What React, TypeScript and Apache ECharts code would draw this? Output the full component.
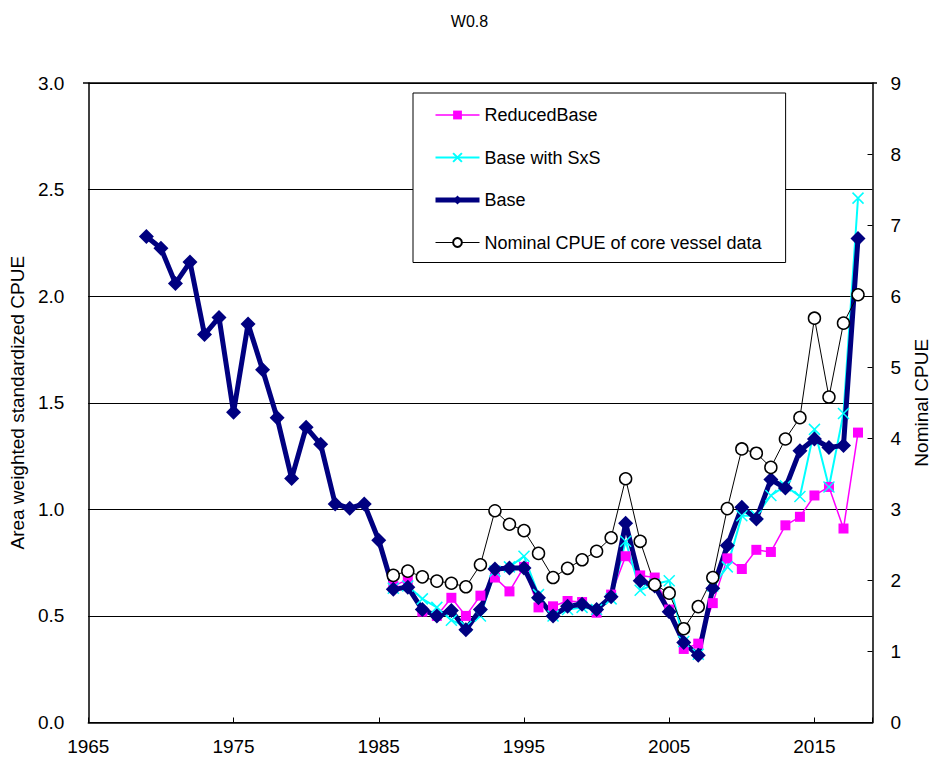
import React, { useEffect, useRef } from "react";
import * as echarts from "echarts";

// Years covered by each series
const baseYears: number[] = Array.from({ length: 50 }, (_, i) => 1969 + i);
const coreYears: number[] = Array.from({ length: 33 }, (_, i) => 1986 + i);

// Area weighted standardized CPUE, Base model (1969-2018)
const baseValues: number[] = [
  2.28, 2.225, 2.06, 2.16, 1.82, 1.9, 1.455, 1.87, 1.655, 1.43,
  1.145, 1.385, 1.305, 1.025, 1.005, 1.025, 0.855, 0.625, 0.635, 0.53,
  0.5, 0.525, 0.435, 0.53, 0.72, 0.725, 0.725, 0.585, 0.5, 0.545,
  0.555, 0.53, 0.59, 0.935, 0.665, 0.64, 0.52, 0.375, 0.315, 0.63,
  0.83, 1.01, 0.955, 1.14, 1.1, 1.275, 1.33, 1.29, 1.3, 2.27,
];

// ReducedBase (1986-2018)
const reducedValues: number[] = [
  0.64, 0.67, 0.52, 0.5, 0.585, 0.5, 0.595, 0.68, 0.615, 0.73,
  0.54, 0.545, 0.57, 0.565, 0.515, 0.6, 0.78, 0.69, 0.68, 0.53,
  0.345, 0.37, 0.56, 0.77, 0.72, 0.81, 0.8, 0.925, 0.965, 1.065,
  1.105, 0.91, 1.36,
];

// Base with SxS (1986-2018)
const sxsValues: number[] = [
  0.63, 0.64, 0.58, 0.54, 0.48, 0.45, 0.5, 0.71, 0.73, 0.78,
  0.6, 0.5, 0.53, 0.54, 0.53, 0.58, 0.85, 0.62, 0.65, 0.665,
  0.38, 0.32, 0.64, 0.73, 0.97, 0.97, 1.065, 1.11, 1.06, 1.375,
  1.105, 1.45, 2.46,
];

// Nominal CPUE of core vessel data (right axis, 1986-2018)
const nominalValues: number[] = [
  2.07, 2.13, 2.05, 1.99, 1.96, 1.91, 2.22, 2.98, 2.79, 2.7,
  2.38, 2.04, 2.17, 2.29, 2.41, 2.6, 3.43, 2.55, 1.94, 1.82,
  1.32, 1.63, 2.04, 3.01, 3.85, 3.79, 3.59, 3.99, 4.29, 5.69,
  4.58, 5.62, 6.02,
];

const seriesNames = [
  "ReducedBase",
  "Base with SxS",
  "Base",
  "Nominal CPUE of core vessel data",
];

const pair = (xs: number[], ys: number[]) => xs.map((x, i) => [x, ys[i]]);

const FONT = "Liberation Sans";
const TICK_FONT = "'Liberation Sans Narrow', 'Liberation Sans'";

export default function App() {
  const ref = useRef<HTMLDivElement>(null);

  useEffect(() => {
    document.body.style.margin = "0";
    if (!ref.current) return;
    const chart = echarts.init(ref.current, null, { renderer: "svg" });

    const axisLine = { show: true, lineStyle: { color: "#000", width: 1.5 } };
    const tick = { show: true, inside: true, length: 5, lineStyle: { color: "#000" } };
    const tickLabel = { fontFamily: TICK_FONT, fontSize: 19, color: "#000" };

    chart.setOption({
      animation: false,
      backgroundColor: "#fff",
      textStyle: { fontFamily: FONT, color: "#000" },
      title: {
        text: "W0.8",
        left: "center",
        top: 8,
        textStyle: { fontFamily: FONT, fontSize: 16, fontWeight: "normal", color: "#000" },
      },
      grid: { left: 83, top: 83, width: 794, height: 639.5, show: false },
      legend: {
        orient: "vertical",
        left: 413,
        top: 93,
        padding: [13, 24, 11, 20],
        itemGap: 24.5,
        itemWidth: 44,
        itemHeight: 11,
        backgroundColor: "#fff",
        borderColor: "#000",
        borderWidth: 1,
        lineStyle: { width: "inherit" },
        textStyle: { fontFamily: FONT, fontSize: 18, color: "#000" },
        data: seriesNames,
      },
      xAxis: {
        type: "value",
        min: 1965,
        max: 2019,
        interval: 10,
        axisLine: { ...axisLine, onZero: false },
        axisTick: tick,
        axisLabel: {
          ...tickLabel,
          margin: 14,
          formatter: (v: number) => ((v - 1965) % 10 === 0 ? String(v) : ""),
        },
        splitLine: { show: false },
      },
      yAxis: [
        {
          type: "value",
          min: 0,
          max: 3,
          interval: 0.5,
          name: "Area weighted standardized CPUE",
          nameLocation: "middle",
          nameGap: 54,
          nameTextStyle: { fontFamily: FONT, fontSize: 19, color: "#000" },
          axisLine,
          axisTick: tick,
          axisLabel: { ...tickLabel, margin: 24, formatter: (v: number) => v.toFixed(1) },
          splitLine: { show: true, lineStyle: { color: "#000", width: 1 } },
        },
        {
          type: "value",
          min: 0,
          max: 9,
          interval: 1,
          position: "right",
          name: "Nominal CPUE",
          nameLocation: "middle",
          nameRotate: 90,
          nameGap: 39,
          nameTextStyle: { fontFamily: FONT, fontSize: 19, color: "#000" },
          axisLine,
          axisTick: tick,
          axisLabel: { ...tickLabel, margin: 18 },
          splitLine: { show: false },
        },
      ],
      graphic: [
        {
          type: "line",
          shape: { x1: 83, y1: 83, x2: 877, y2: 83 },
          style: { stroke: "#000", lineWidth: 1.5 },
          z: 10,
        },
      ],
      series: [
        {
          name: seriesNames[0],
          type: "line",
          data: pair(coreYears, reducedValues),
          symbol: "rect",
          symbolSize: 10,
          lineStyle: { color: "#FF00FF", width: 1.5 },
          itemStyle: { color: "#FF00FF" },
        },
        {
          name: seriesNames[1],
          type: "line",
          data: pair(coreYears, sxsValues),
          symbol: "path://M0,0L10,10M10,0L0,10",
          symbolSize: 11,
          lineStyle: { color: "#00FFFF", width: 2 },
          itemStyle: { color: "#00FFFF", borderColor: "#00FFFF", borderWidth: 1.5 },
        },
        {
          name: seriesNames[2],
          type: "line",
          data: pair(baseYears, baseValues),
          symbol: "diamond",
          symbolSize: 15,
          lineStyle: { color: "#000080", width: 5 },
          itemStyle: { color: "#000080" },
        },
        {
          name: seriesNames[3],
          type: "line",
          yAxisIndex: 1,
          data: pair(coreYears, nominalValues),
          symbol: "circle",
          symbolSize: 12,
          lineStyle: { color: "#000", width: 1 },
          itemStyle: { color: "#fff", borderColor: "#000", borderWidth: 1.5 },
        },
      ],
    });

    return () => chart.dispose();
  }, []);

  return <div ref={ref} style={{ width: 939, height: 760 }} />;
}
